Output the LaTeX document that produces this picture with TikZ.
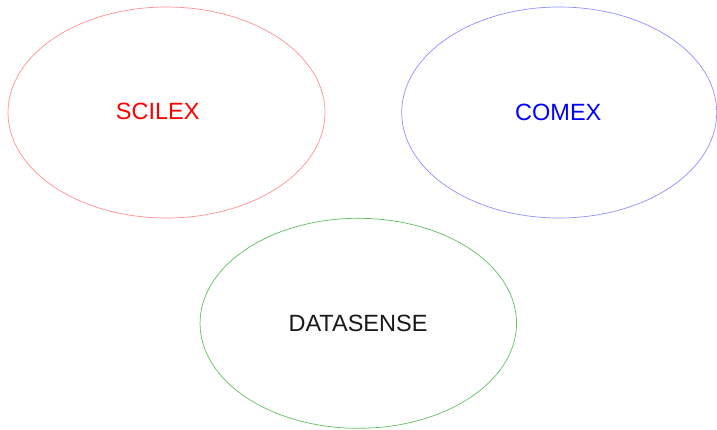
\documentclass[tikz,border=0pt]{standalone}
\usepackage{fontspec}
\setmainfont{Liberation Sans}
\usetikzlibrary{shapes.geometric}
\begin{document}
\begin{tikzpicture}[x=1pt,y=-1pt,
  oval/.style={ellipse,draw,line width=0.7pt,inner sep=0pt,outer sep=0pt,minimum width=317pt,minimum height=211pt},
  lbl/.style={font=\fontsize{23.5}{26}\selectfont,inner sep=0pt}]
\useasboundingbox (0,0) rectangle (717,429);
\definecolor{ovred}{HTML}{FF9090}
\definecolor{ovblue}{HTML}{9090FF}
\definecolor{ovgreen}{HTML}{60C060}
\node[oval,draw=ovred] (scilexo) at (166.5,112.5) {};
\node[oval,draw=ovblue,minimum width=315pt] (comexo) at (559.2,112.5) {};
\node[oval,draw=ovgreen,minimum width=316.5pt,minimum height=210pt] (datao) at (358.3,323.3) {};
\node[lbl,text=red] (scilex) at (157.7,111.5) {SCILEX};
\node[lbl,text=blue] (comex) at (558.3,112) {COMEX};
\node[lbl,text=black!90] (data) at (358,323.7) {DATASENSE};
\end{tikzpicture}
\end{document}
